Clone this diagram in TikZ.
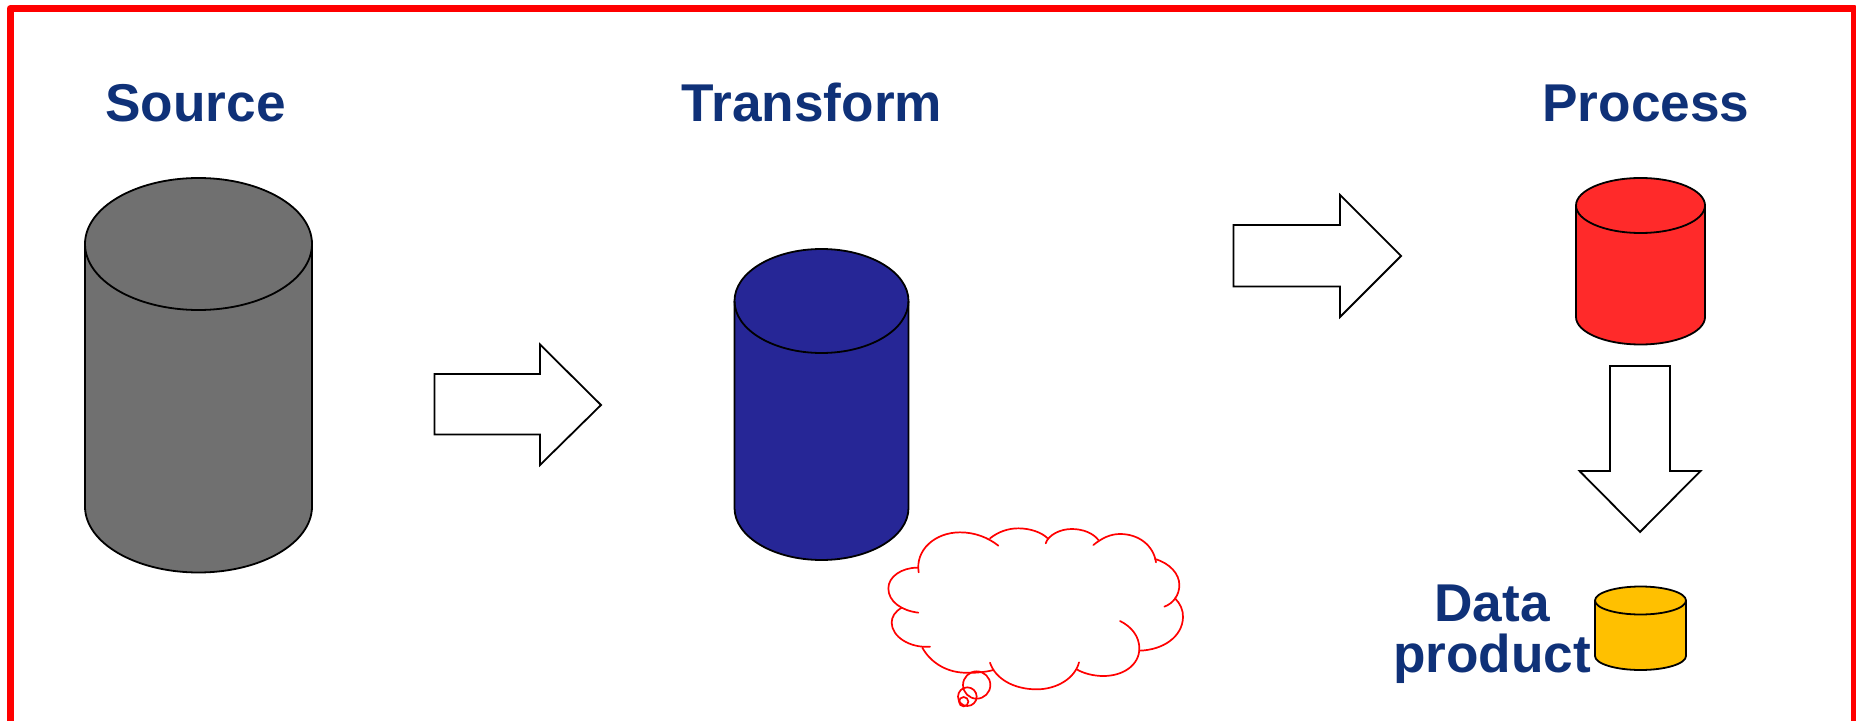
\documentclass[tikz,border=0pt]{standalone}
\usepackage{fontspec}
\setmainfont{Liberation Sans}
\definecolor{navy}{HTML}{0F3178}
\definecolor{cgray}{HTML}{707070}
\definecolor{cblue}{HTML}{262696}
\definecolor{cred}{HTML}{FF2A2A}
\definecolor{cyellow}{HTML}{FFC000}
\tikzset{
  title/.style={text=navy,font=\bfseries\fontsize{26.6}{25.6}\selectfont,anchor=base,inner sep=0pt,align=center},
  cylline/.style={draw=black,line width=0.9pt,line join=round},
  blockarrow/.style={draw=black,fill=white,line width=0.9pt,line join=miter},
  lobe/.style={draw=red,line width=0.85pt,line cap=round},
}
\newcommand{\cyl}[6]{%cx,rx,ry,topcy,botcy,color
  \draw[cylline,fill=#6] ({#1-#2},#4) -- ({#1-#2},#5)
     arc[start angle=180,end angle=0,x radius=#2,y radius=#3] -- ({#1+#2},#4)
     arc[start angle=0,end angle=-180,x radius=#2,y radius=#3] -- cycle;
  \draw[cylline] ({#1-#2},#4) arc[start angle=180,end angle=0,x radius=#2,y radius=#3];
}
\begin{document}
\begin{tikzpicture}[x=0.5pt,y=-0.5pt]
\useasboundingbox (0,0) rectangle (1856,721);
\fill[white] (0,0) rectangle (1856,721);
\draw[red,line width=3.5pt,line join=round] (10,8.5) rectangle (1854,724);

\node[title] (source) at (195.5,122) {Source};
\node[title] (transform) at (812,122) {Transform};
\node[title] (process) at (1646,122) {Process};
\node[title] (data) at (1492,621) {Data};
\node[title] (product) at (1492,672) {product};

\cyl{198.5}{113.5}{66}{244}{506.5}{cgray}
\cyl{821.5}{87}{52}{301}{508}{cblue}
\cyl{1640.5}{64.5}{27.5}{205.5}{317}{cred}
\cyl{1640.5}{45.5}{14}{600.5}{656}{cyellow}

\draw[blockarrow] (434.5,374) -- (540,374) -- (540,344.5) -- (601,405) -- (540,465) -- (540,434.5) -- (434.5,434.5) -- cycle;
\draw[blockarrow] (1233.5,225) -- (1340,225) -- (1340,195) -- (1401,256) -- (1340,317) -- (1340,286.5) -- (1233.5,286.5) -- cycle;
\draw[blockarrow] (1610,366) -- (1670,366) -- (1670,471) -- (1700.5,471) -- (1640,532) -- (1579.5,471) -- (1610,471) -- cycle;

\begin{scope}[shift={(860,500)},x=0.16667pt,y=-0.16667pt]
  \draw[lobe] (176,217) .. controls (165,150) and (225,97) .. (300,97) .. controls (345,97) and (385,113) .. (415,137);
  \draw[lobe] (390,115) .. controls (415,95) and (445,85) .. (475,85) .. controls (510,85) and (545,97) .. (563,115);
  \draw[lobe] (557,130) .. controls (565,105) and (600,87) .. (635,87) .. controls (670,87) and (700,100) .. (715,120);
  \draw[lobe] (700,135) .. controls (725,115) and (750,102) .. (780,102) .. controls (835,102) and (880,135) .. (888,187);
  \draw[lobe] (885,177) .. controls (930,190) and (958,222) .. (958,255) .. controls (958,285) and (940,310) .. (913,320);
  \draw[lobe] (945,295) .. controls (960,310) and (970,330) .. (969,352) .. controls (967,410) and (910,450) .. (838,452);
  \draw[lobe] (780,363) .. controls (815,380) and (838,410) .. (838,445) .. controls (838,495) and (790,528) .. (730,528) .. controls (700,528) and (670,520) .. (650,508);
  \draw[lobe] (657,487) .. controls (645,535) and (590,568) .. (530,568) .. controls (460,568) and (405,535) .. (390,488);
  \draw[lobe] (400,510) .. controls (380,516) and (340,520) .. (310,518) .. controls (255,515) and (210,485) .. (187,443);
  \draw[lobe] (210,440) .. controls (150,445) and (95,410) .. (95,368) .. controls (95,350) and (105,335) .. (125,323);
  \draw[lobe] (175,338) .. controls (125,332) and (85,305) .. (85,265) .. controls (85,230) and (125,203) .. (172,203);
  \draw[lobe] (350,555) circle[radius=41];
  \draw[lobe] (322,590) circle[radius=28];
  \draw[lobe] (311,605) circle[radius=14];
\end{scope}
\end{tikzpicture}
\end{document}
